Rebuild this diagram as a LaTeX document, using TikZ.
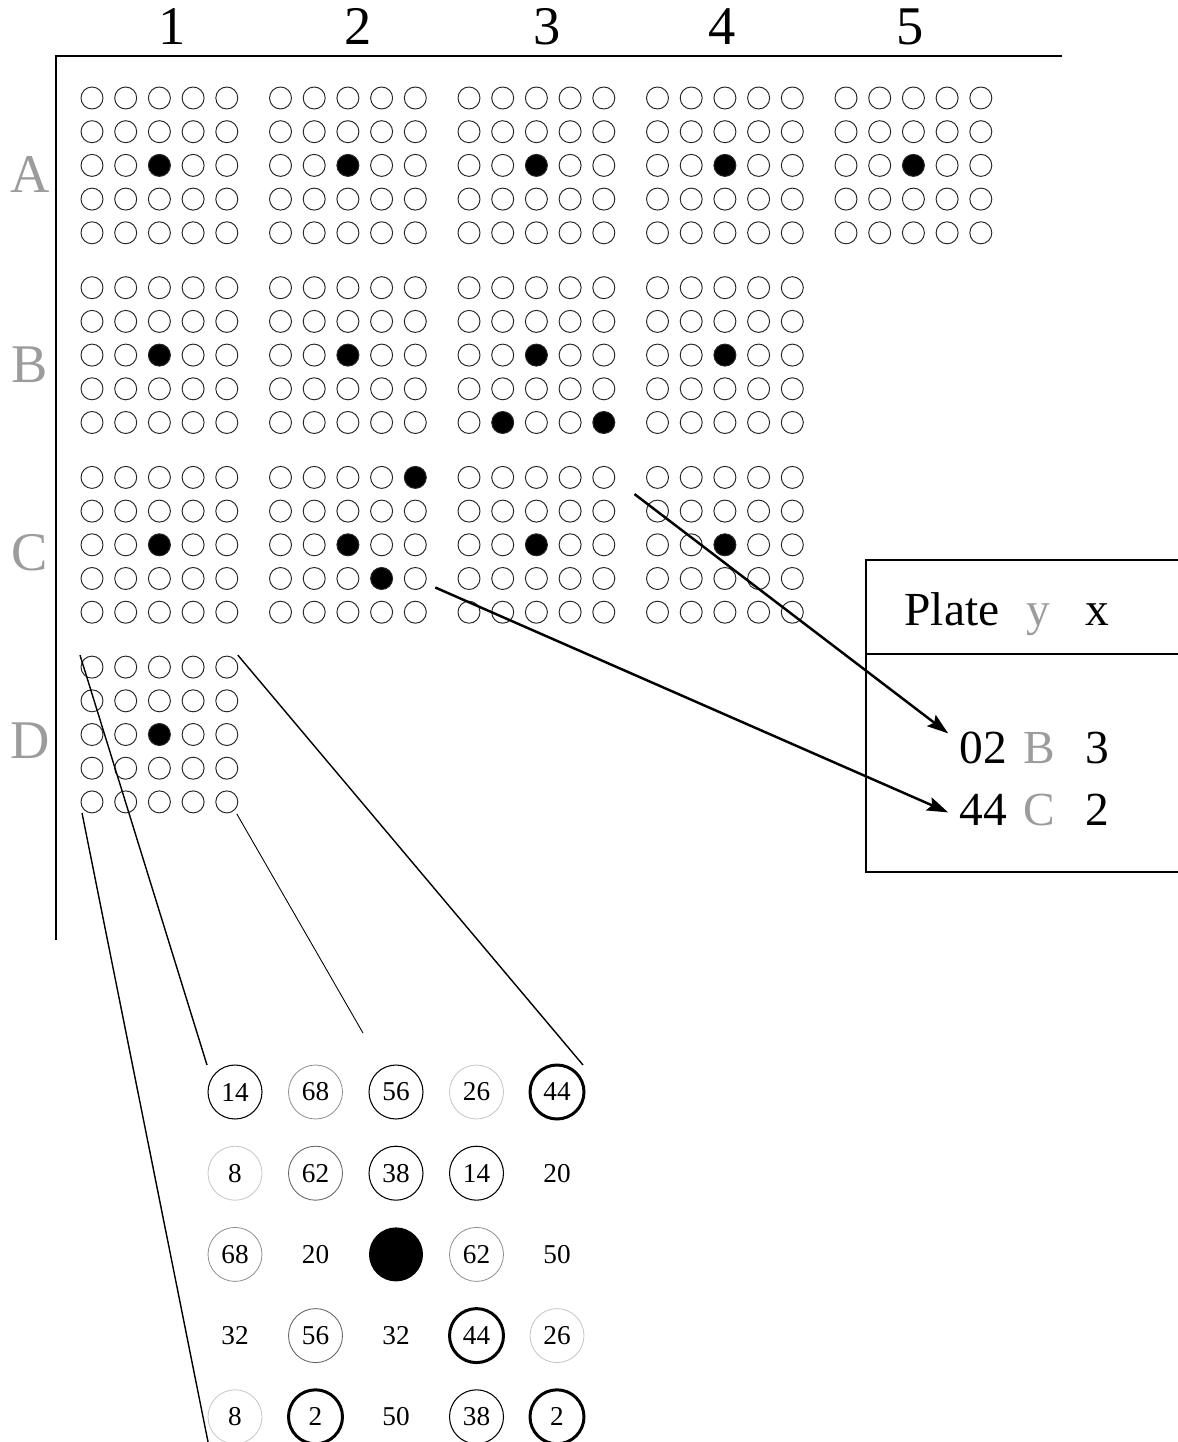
\documentclass[tikz,border=0pt]{standalone}
\usepackage{fontspec}
\setmainfont{Liberation Serif}
\usetikzlibrary{arrows.meta, calc}
\definecolor{plateGrey}{HTML}{9C9C9C}
\definecolor{plateFaint}{HTML}{8C8C8C}
\definecolor{platePale}{HTML}{C4C4C4}
\tikzset{
  well/.style={circle, draw=black!85, line width=0.55pt,
    minimum size=0.44cm, inner sep=0pt},
  axislabel/.style={font=\fontsize{31}{34}\selectfont, anchor=base, inner sep=0pt},
  rowlabel/.style={font=\fontsize{31}{34}\selectfont, text=plateGrey,
    anchor=base, inner sep=0pt},
  platetext/.style={font=\fontsize{27}{30}\selectfont, anchor=base, inner sep=1pt},
  zcell/.style={circle, minimum size=1.08cm, inner sep=0pt,
    font=\fontsize{15.5}{18}\selectfont},
  ringthin/.style={draw=black, line width=0.6pt},
  ringbold/.style={draw=black, line width=1.7pt},
  ringgrey/.style={draw=black!60, line width=0.5pt},
  ringfaint/.style={draw=plateFaint, line width=0.45pt},
  ringpale/.style={draw=platePale, line width=0.45pt},
  ringnone/.style={draw=none},
  ringfull/.style={fill=black},
  pointer/.style={-{Stealth[length=12pt, width=8pt, inset=2pt]}, line width=1.4pt},
  zoomline/.style={line width=0.8pt},
}
\begin{document}
\begin{tikzpicture}[x=0.02cm, y=-0.02cm]
  \useasboundingbox (0,0) rectangle (1177,1442);
  % plate frame and its labels
  \coordinate (origin) at (56,56);
  \draw[line width=0.8pt] (1062,56) -- (origin) -- (56,940);
  \foreach \c/\x in {1/172, 2/358, 3/547, 4/722, 5/910}
    \node[axislabel] (col\c) at (\x,45) {\c};
  \foreach \r/\y in {A/193, B/382, C/570, D/758}
    \node[rowlabel] (row\r) at (30,\y) {\r};
  % 5x5 well blocks, filled wells listed per block
  \foreach \r/\rn/\c/\hits in {A/1/1/33, A/1/2/33, A/1/3/33, A/1/4/33, A/1/5/33,
      B/2/1/33, B/2/2/33, B/2/3/{33,52,55}, B/2/4/33,
      C/3/1/33, C/3/2/{15,33,44}, C/3/3/33, C/3/4/33,
      D/4/1/33} {
    \foreach \k in {1,...,5} {
      \foreach \j in {1,...,5} {
        \gdef\wellfill{white}
        \foreach \h in \hits {\ifnum\h=\k\j\relax\gdef\wellfill{black}\fi}
        \node[well, fill=\wellfill] (w\r\c-\k\j)
          at ({92+188.5*(\c-1)+33.7*(\j-1)},{98+189.7*(\rn-1)+33.7*(\k-1)}) {};
      }
    }
  }
  % enlarged view of block D1
  \foreach \k/\j/\t/\s in {
      1/1/14/ringthin, 1/2/68/ringfaint, 1/3/56/ringthin, 1/4/26/ringpale, 1/5/44/ringbold,
      2/1/8/ringpale, 2/2/62/ringgrey, 2/3/38/ringthin, 2/4/14/ringthin, 2/5/20/ringnone,
      3/1/68/ringfaint, 3/2/20/ringnone, 3/3//ringfull, 3/4/62/ringfaint, 3/5/50/ringnone,
      4/1/32/ringnone, 4/2/56/ringgrey, 4/3/32/ringnone, 4/4/44/ringbold, 4/5/26/ringpale,
      5/1/8/ringpale, 5/2/2/ringbold, 5/3/50/ringnone, 5/4/38/ringthin, 5/5/2/ringbold}
    \node[zcell, \s] (z\k\j) at ({235+80.5*(\j-1)},{1092+81.2*(\k-1)}) {\t};
  \coordinate (zoomfoot) at ([shift={(-25,35)}]z51.center);
  \draw[zoomline] ([shift={(-12,-12)}]wD1-11.center) -- ([shift={(-28,-27)}]z11.center);
  \draw[zoomline] ([shift={(11,-12)}]wD1-15.center) -- ([shift={(26,-27)}]z15.center);
  \draw[zoomline, line width=0.5pt] ([shift={(10,12)}]wD1-55.center)
    -- ([shift={(-33,-59)}]z13.center);
  \draw[zoomline] ([shift={(-10,11)}]wD1-51.center) -- (zoomfoot);
  % plate record table
  \draw[line width=1pt] (866,560) rectangle (1200,872);
  \draw[line width=1pt] (866,654) -- (1200,654);
  \node[platetext] (plate) at (952,625) {Plate};
  \node[platetext, text=plateGrey] (ycol) at (1038,625) {y};
  \node[platetext] (xcol) at (1097,625) {x};
  \node[platetext] (p02) at (983,763) {02};
  \node[platetext, text=plateGrey] (pB) at (1039,763) {B};
  \node[platetext] (p3) at (1097,763) {3};
  \node[platetext] (p44) at (983,825) {44};
  \node[platetext, text=plateGrey] (pC) at (1039,825) {C};
  \node[platetext] (p2) at (1097,825) {2};
  \coordinate (fromC4) at ([shift={(-23,-17)}]wC4-21.center);
  \coordinate (fromC2) at ([shift={(20,9)}]wC2-45.center);
  \draw[pointer] (fromC4) -- ([shift={(-9,4)}]p02.north west);
  \draw[pointer] (fromC2) -- ([shift={(-9,3)}]p44.west);
\end{tikzpicture}
\end{document}
